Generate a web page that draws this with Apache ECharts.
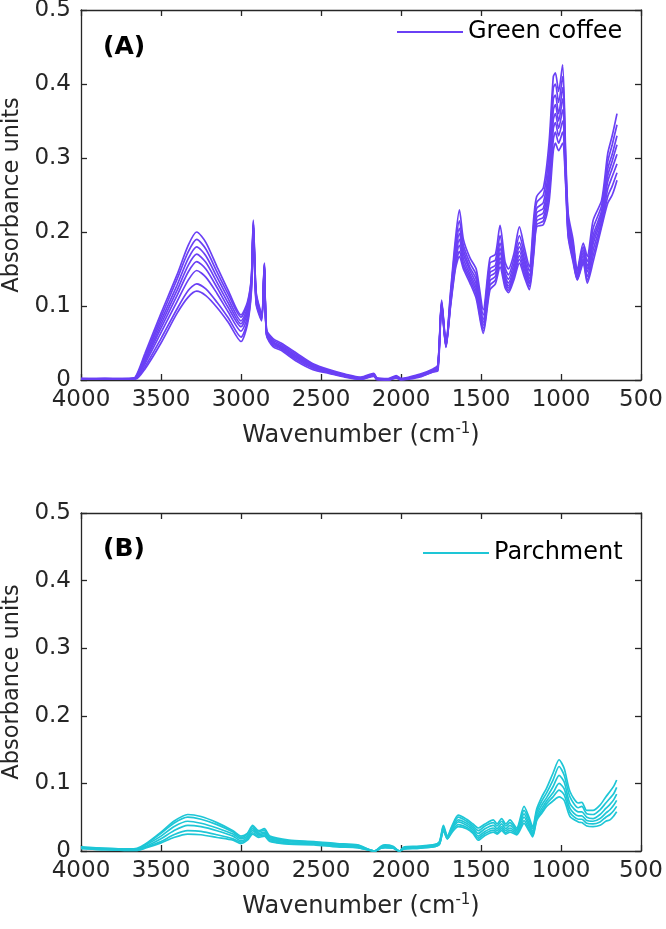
<!DOCTYPE html>
<html>
<head>
<meta charset="utf-8">
<script src="https://cdn.jsdelivr.net/npm/echarts@6/dist/echarts.min.js"></script>
<style>
  html, body { margin: 0; padding: 0; background: #fff; }
  #main { width: 666px; height: 929px; }
</style>
</head>
<body>
<div id="main"></div>
<script>
// wavenumbers (cm-1) for panel A
var wnA = [4000, 3850, 3700, 3660, 3600, 3500, 3400, 3330, 3277, 3220, 3150, 3080, 3000, 2960, 2935, 2923, 2905, 2871, 2854, 2840,
  2800, 2750, 2650, 2550, 2450, 2350, 2250, 2170, 2150, 2080, 2030, 2000, 1950, 1880, 1800,
  1770, 1746, 1719, 1690, 1660, 1635, 1610, 1569, 1530, 1486, 1444, 1410, 1381, 1350, 1329, 1295, 1260, 1230, 1198,
  1170, 1152, 1110, 1075, 1048, 1035, 1015, 990, 970, 955, 925, 898, 861, 836, 799, 746, 708, 680, 650];

// green coffee spectra
var greenA1 = [0.002,0.002,0.002,0.004,0.036,0.090,0.142,0.182,0.200,0.186,0.153,0.121,0.088,0.105,0.140,0.216,0.118,0.090,0.158,0.068,0.056,0.050,0.036,0.022,0.014,0.008,0.004,0.009,0.003,0.002,0.006,0.002,0.004,0.008,0.015,
  0.020,0.108,0.050,0.120,0.190,0.230,0.190,0.165,0.150,0.095,0.165,0.170,0.209,0.160,0.150,0.170,0.207,0.180,0.153,0.220,0.248,0.260,0.320,0.410,0.415,0.390,0.426,0.300,0.225,0.190,0.150,0.185,0.167,0.216,0.243,0.306,0.330,0.360];
var greenA2 = [0.001,0.002,0.001,0.003,0.032,0.085,0.136,0.173,0.190,0.177,0.146,0.116,0.085,0.102,0.138,0.214,0.116,0.088,0.157,0.066,0.054,0.048,0.034,0.021,0.013,0.007,0.003,0.008,0.002,0.001,0.005,0.001,0.003,0.007,0.014,
  0.019,0.106,0.049,0.116,0.182,0.215,0.182,0.158,0.142,0.088,0.158,0.162,0.195,0.152,0.142,0.163,0.195,0.172,0.147,0.210,0.240,0.250,0.305,0.395,0.400,0.375,0.410,0.292,0.218,0.184,0.147,0.180,0.160,0.205,0.236,0.295,0.318,0.345];
var greenA3 = [0.002,0.001,0.002,0.003,0.030,0.080,0.128,0.164,0.180,0.168,0.139,0.110,0.080,0.098,0.135,0.212,0.113,0.087,0.156,0.064,0.052,0.046,0.032,0.020,0.012,0.007,0.003,0.008,0.002,0.001,0.005,0.002,0.003,0.007,0.013,
  0.018,0.105,0.048,0.112,0.175,0.205,0.176,0.152,0.136,0.082,0.150,0.155,0.185,0.146,0.136,0.156,0.186,0.165,0.141,0.200,0.232,0.240,0.290,0.380,0.385,0.360,0.395,0.286,0.212,0.178,0.144,0.176,0.154,0.196,0.229,0.285,0.305,0.330];
var greenA4 = [0.001,0.002,0.001,0.002,0.027,0.075,0.121,0.155,0.170,0.159,0.132,0.104,0.076,0.094,0.132,0.210,0.110,0.086,0.155,0.063,0.051,0.045,0.031,0.019,0.011,0.006,0.002,0.007,0.001,0.001,0.004,0.001,0.002,0.006,0.013,
  0.017,0.104,0.047,0.110,0.168,0.198,0.170,0.148,0.130,0.078,0.145,0.150,0.178,0.141,0.131,0.150,0.180,0.160,0.137,0.192,0.226,0.232,0.278,0.365,0.372,0.350,0.380,0.280,0.208,0.174,0.141,0.172,0.150,0.190,0.224,0.276,0.296,0.318];
var greenA5 = [0.002,0.002,0.002,0.003,0.025,0.070,0.114,0.146,0.160,0.150,0.125,0.098,0.072,0.090,0.130,0.209,0.108,0.085,0.154,0.062,0.050,0.044,0.030,0.018,0.011,0.006,0.002,0.007,0.001,0.001,0.004,0.001,0.002,0.006,0.012,
  0.016,0.103,0.046,0.107,0.162,0.190,0.164,0.143,0.125,0.074,0.140,0.145,0.172,0.137,0.127,0.146,0.174,0.155,0.133,0.186,0.220,0.226,0.268,0.352,0.360,0.340,0.365,0.275,0.204,0.170,0.139,0.168,0.146,0.184,0.219,0.268,0.286,0.305];
var greenA6 = [0.001,0.001,0.001,0.002,0.022,0.064,0.106,0.135,0.148,0.139,0.117,0.092,0.066,0.085,0.127,0.208,0.106,0.084,0.153,0.062,0.049,0.043,0.029,0.017,0.010,0.005,0.002,0.006,0.001,0.000,0.004,0.001,0.002,0.005,0.012,
  0.015,0.102,0.045,0.105,0.158,0.182,0.158,0.139,0.120,0.070,0.134,0.140,0.165,0.133,0.124,0.142,0.168,0.150,0.130,0.180,0.215,0.220,0.258,0.340,0.348,0.330,0.350,0.270,0.200,0.166,0.137,0.164,0.140,0.176,0.214,0.258,0.275,0.292];
var greenA7 = [0.001,0.001,0.001,0.002,0.018,0.056,0.096,0.121,0.130,0.123,0.105,0.084,0.058,0.079,0.123,0.206,0.104,0.082,0.152,0.061,0.047,0.042,0.027,0.016,0.010,0.005,0.001,0.006,0.001,0.000,0.003,0.000,0.002,0.005,0.011,
  0.014,0.101,0.045,0.102,0.154,0.174,0.154,0.135,0.115,0.066,0.128,0.135,0.160,0.129,0.121,0.139,0.163,0.145,0.126,0.175,0.210,0.215,0.250,0.325,0.335,0.320,0.335,0.265,0.196,0.163,0.136,0.161,0.135,0.168,0.210,0.248,0.262,0.280];
var greenA8 = [0.001,0.001,0.001,0.001,0.015,0.050,0.090,0.112,0.120,0.114,0.098,0.078,0.052,0.075,0.120,0.205,0.102,0.080,0.150,0.060,0.045,0.040,0.025,0.014,0.009,0.004,0.001,0.005,0.000,0.000,0.003,0.000,0.001,0.004,0.011,
  0.012,0.100,0.044,0.100,0.150,0.167,0.150,0.131,0.110,0.063,0.122,0.130,0.153,0.125,0.118,0.135,0.158,0.140,0.122,0.170,0.207,0.210,0.240,0.310,0.320,0.310,0.320,0.260,0.193,0.160,0.135,0.158,0.131,0.160,0.207,0.239,0.250,0.270];

// wavenumbers for panel B
var wnB = [4000, 3850, 3700, 3650, 3600, 3500, 3420, 3333, 3250, 3150, 3050, 3000, 2960, 2927, 2890, 2854, 2820, 2700, 2544, 2400,
  2271, 2165, 2125, 2100, 2050, 2010, 1980, 1900, 1800, 1760, 1735, 1710, 1680, 1642, 1590, 1550, 1517, 1475, 1423, 1400,
  1371, 1345, 1319, 1277, 1231, 1200, 1177, 1152, 1120, 1090, 1050, 1012, 980, 944, 892, 870, 839, 800, 756, 720, 694, 670, 652];

// parchment spectra
var parchB1 = [0.006,0.004,0.003,0.004,0.010,0.028,0.044,0.054,0.051,0.042,0.030,0.022,0.026,0.038,0.030,0.033,0.022,0.016,0.014,0.011,
  0.009,0.000,0.007,0.009,0.007,0.000,0.006,0.007,0.009,0.014,0.038,0.022,0.038,0.053,0.047,0.040,0.034,0.040,0.046,0.040,
  0.048,0.040,0.046,0.034,0.066,0.050,0.036,0.062,0.080,0.093,0.115,0.135,0.122,0.088,0.071,0.072,0.060,0.060,0.068,0.080,0.088,0.096,0.105];
var parchB2 = [0.005,0.004,0.003,0.003,0.009,0.026,0.041,0.050,0.047,0.039,0.028,0.020,0.025,0.036,0.028,0.031,0.020,0.015,0.013,0.010,
  0.008,0.000,0.006,0.008,0.006,0.000,0.005,0.006,0.009,0.013,0.036,0.021,0.036,0.050,0.044,0.037,0.030,0.037,0.042,0.037,
  0.044,0.037,0.042,0.032,0.060,0.046,0.033,0.058,0.074,0.086,0.105,0.125,0.112,0.080,0.064,0.066,0.055,0.054,0.061,0.071,0.078,0.085,0.094];
var parchB3 = [0.005,0.003,0.002,0.002,0.008,0.022,0.036,0.044,0.041,0.034,0.025,0.018,0.022,0.033,0.026,0.028,0.018,0.014,0.012,0.009,
  0.007,0.000,0.005,0.007,0.005,0.000,0.004,0.005,0.008,0.012,0.034,0.020,0.034,0.046,0.041,0.034,0.026,0.033,0.038,0.033,
  0.040,0.033,0.038,0.030,0.055,0.041,0.029,0.054,0.068,0.079,0.095,0.112,0.102,0.070,0.058,0.058,0.050,0.048,0.054,0.063,0.069,0.076,0.084];
var parchB4 = [0.005,0.003,0.002,0.002,0.006,0.018,0.030,0.038,0.036,0.030,0.022,0.015,0.020,0.030,0.024,0.026,0.017,0.012,0.011,0.008,
  0.006,0.000,0.005,0.006,0.005,0.000,0.004,0.005,0.007,0.011,0.033,0.019,0.032,0.043,0.038,0.031,0.022,0.029,0.034,0.030,
  0.036,0.030,0.034,0.028,0.050,0.037,0.026,0.050,0.063,0.074,0.086,0.100,0.092,0.063,0.052,0.052,0.045,0.044,0.048,0.056,0.061,0.068,0.075];
var parchB5 = [0.004,0.002,0.001,0.001,0.005,0.014,0.024,0.030,0.029,0.024,0.018,0.013,0.018,0.027,0.022,0.024,0.015,0.011,0.010,0.007,
  0.005,0.000,0.004,0.005,0.004,0.000,0.003,0.004,0.006,0.010,0.031,0.018,0.030,0.039,0.035,0.028,0.019,0.026,0.031,0.027,
  0.033,0.027,0.031,0.026,0.045,0.033,0.023,0.047,0.059,0.070,0.080,0.090,0.083,0.057,0.047,0.047,0.041,0.040,0.043,0.050,0.054,0.060,0.066];
var parchB6 = [0.004,0.002,0.001,0.001,0.004,0.012,0.020,0.025,0.024,0.020,0.016,0.011,0.016,0.025,0.020,0.022,0.014,0.010,0.009,0.006,
  0.005,0.000,0.004,0.005,0.004,0.000,0.003,0.004,0.006,0.010,0.030,0.018,0.028,0.036,0.033,0.026,0.016,0.023,0.028,0.025,
  0.030,0.025,0.028,0.024,0.041,0.030,0.021,0.045,0.056,0.066,0.074,0.080,0.075,0.051,0.043,0.042,0.037,0.036,0.038,0.044,0.046,0.052,0.058];

var yTicks = [0, 0.1, 0.2, 0.3, 0.4, 0.5];
var xTicks = [4000, 3500, 3000, 2500, 2000, 1500, 1000, 500];

var purple = '#6A40F5';
var cyan = '#1EC6D6';
var ink = '#262626';
var font = 'DejaVu Sans';

var pair = function (wn, vals) {
  return vals.map(function (v, i) { return [wn[i], v]; });
};

var xAxisFor = function (grid, pos, withLabel) {
  return {
    type: 'value', gridIndex: grid, position: pos, inverse: true,
    min: xTicks[xTicks.length - 1], max: xTicks[0], interval: 500,
    axisLine: { show: true, onZero: false, lineStyle: { color: ink, width: 1.3 } },
    axisTick: { show: true, inside: true, length: 6, lineStyle: { color: ink, width: 1.3 } },
    axisLabel: {
      show: withLabel, margin: 9, color: ink, fontFamily: font, fontSize: 23,
      formatter: function (v) { return String(v); }
    },
    splitLine: { show: false },
    name: withLabel ? '{a|Wavenumber (cm}{s|-1}{a|)}' : '',
    nameLocation: 'middle', nameGap: 42,
    nameTextStyle: {
      rich: {
        a: { fontFamily: font, fontSize: 24, color: ink },
        s: { fontFamily: font, fontSize: 15, color: ink, verticalAlign: 'top', padding: [0, 0, 12, 0] }
      }
    }
  };
};

var yAxisFor = function (grid, pos, withLabel) {
  return {
    type: 'value', gridIndex: grid, position: pos,
    min: yTicks[0], max: yTicks[yTicks.length - 1], interval: 0.1,
    axisLine: { show: true, onZero: false, lineStyle: { color: ink, width: 1.3 } },
    axisTick: { show: true, inside: true, length: 6, lineStyle: { color: ink, width: 1.3 } },
    axisLabel: {
      show: withLabel, margin: 10, color: ink, fontFamily: font, fontSize: 23,
      formatter: function (v) { return v === 0 ? '0' : v.toFixed(1); }
    },
    splitLine: { show: false },
    name: withLabel ? 'Absorbance units' : '',
    nameLocation: 'middle', nameGap: 55,
    nameTextStyle: { fontFamily: font, fontSize: 22.5, color: ink }
  };
};

var lineSeries = function (name, wn, vals, axis, color) {
  return {
    name: name, type: 'line', xAxisIndex: axis, yAxisIndex: axis,
    data: pair(wn, vals), showSymbol: false, symbol: 'none', smooth: 0.25,
    lineStyle: { color: color, width: 1.7 }, itemStyle: { color: color },
    animation: false, silent: true
  };
};

var seriesA = [greenA1, greenA2, greenA3, greenA4, greenA5, greenA6, greenA7, greenA8].map(function (d) {
  return lineSeries('Green coffee', wnA, d, 0, purple);
});
var seriesB = [parchB1, parchB2, parchB3, parchB4, parchB5, parchB6].map(function (d) {
  return lineSeries('Parchment', wnB, d, 2, cyan);
});

// legend: plain line key, no marker
var legendFor = function (name, left, top) {
  return {
    data: [name], left: left, top: top, padding: 0, itemWidth: 66, itemHeight: 14, itemGap: 7,
    itemStyle: { opacity: 0 },
    textStyle: { fontFamily: font, fontSize: 24, color: '#000' }
  };
};

var chart = echarts.init(document.getElementById('main'), null, { renderer: 'canvas' });
chart.setOption({
  backgroundColor: '#fff',
  animation: false,
  title: [
    { text: '(A)', left: 98, top: 30, textStyle: { fontFamily: font, fontWeight: 'bold', fontSize: 25, color: '#000' } },
    { text: '(B)', left: 98, top: 532, textStyle: { fontFamily: font, fontWeight: 'bold', fontSize: 25, color: '#000' } }
  ],
  legend: [legendFor('Green coffee', 396, 20), legendFor('Parchment', 422, 541)],
  grid: [
    { left: 81, top: 10, width: 560, height: 370, outerBoundsMode: 'none' },
    { left: 81, top: 513, width: 560, height: 338, outerBoundsMode: 'none' }
  ],
  xAxis: [xAxisFor(0, 'bottom', true), xAxisFor(0, 'top', false), xAxisFor(1, 'bottom', true), xAxisFor(1, 'top', false)],
  yAxis: [yAxisFor(0, 'left', true), yAxisFor(0, 'right', false), yAxisFor(1, 'left', true), yAxisFor(1, 'right', false)],
  series: seriesA.concat(seriesB)
});
</script>
</body>
</html>
